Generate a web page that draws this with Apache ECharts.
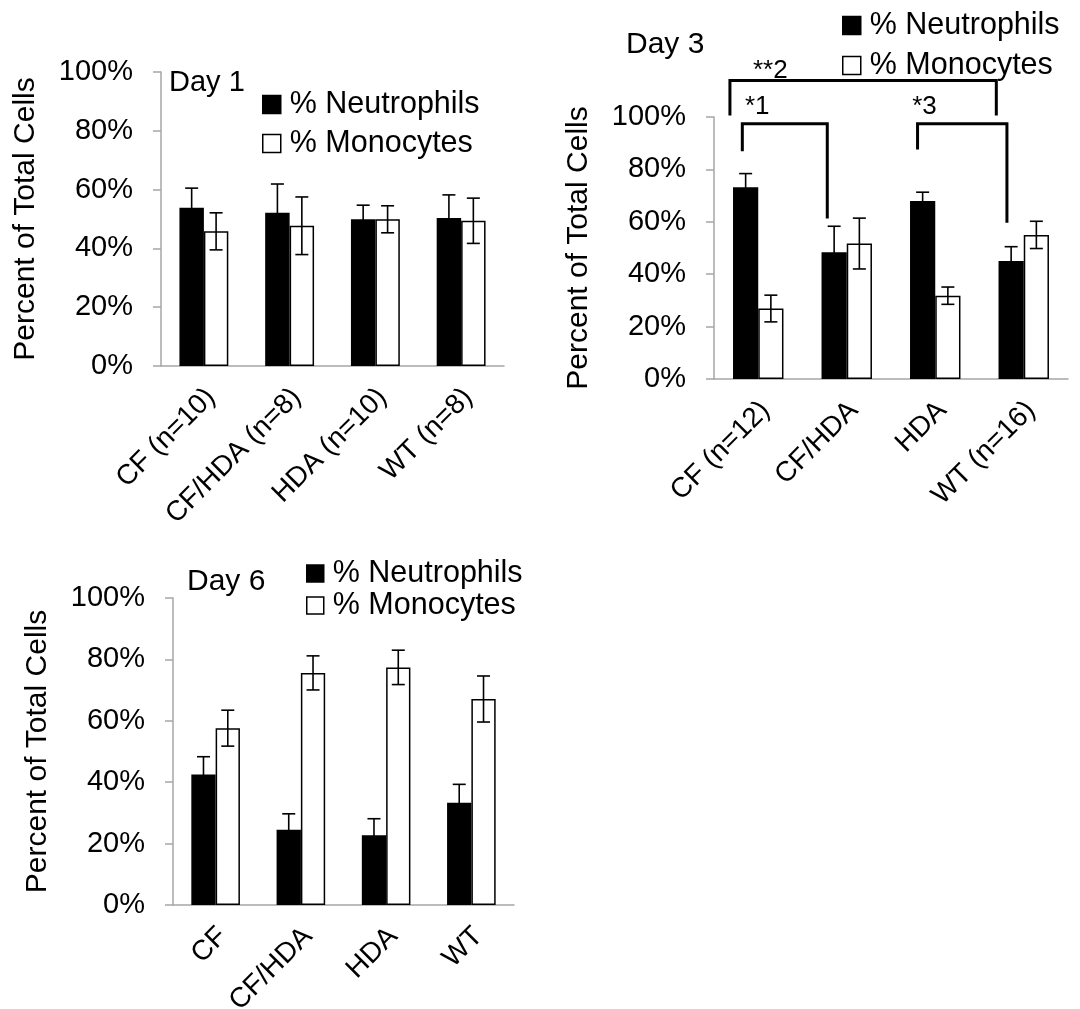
<!DOCTYPE html>
<html>
<head>
<meta charset="utf-8">
<script src="https://cdn.jsdelivr.net/npm/echarts@6/dist/echarts.min.js"></script>
<style>
  html, body { margin: 0; padding: 0; background: #fff; }
  #main { width: 1080px; height: 1009px; }
</style>
</head>
<body>
<div id="main"></div>
<script>
// categories
var day1Cats = ['CF (n=10)', 'CF/HDA (n=8)', 'HDA (n=10)', 'WT (n=8)']
var day3Cats = ['CF (n=12)', 'CF/HDA', 'HDA', 'WT (n=16)']
var day6Cats = ['CF', 'CF/HDA', 'HDA', 'WT']

// % of total cells, with error
var day1Neut = [53.8, 52.1, 49.9, 50.3]
var day1NeutErr = [6.7, 9.8, 4.8, 7.9]
var day1Mono = [45.8, 47.7, 49.9, 49.4]
var day1MonoErr = [6.3, 9.8, 4.6, 7.7]

var day3Neut = [73.2, 48.4, 67.9, 45.0]
var day3NeutErr = [5.2, 9.9, 3.4, 5.5]
var day3Mono = [26.9, 51.7, 31.8, 55.0]
var day3MonoErr = [5.1, 9.7, 3.3, 5.2]

var day6Neut = [42.5, 24.5, 22.7, 33.3]
var day6NeutErr = [5.8, 5.2, 5.4, 6.0]
var day6Mono = [57.6, 75.6, 77.4, 67.1]
var day6MonoErr = [5.85, 5.55, 5.6, 7.5]

var yTicks = [0, 20, 40, 60, 80, 100]

// significance brackets on day 3
var sigLabels = ['*1', '**2', '*3']
var sigFrom = [0, 0, 2]
var sigTo = [1, 3, 3]
var sigTop = [97.4, 113.9, 97.4]
var sigFootL = [86.9, 100.6, 87.6]
var sigFootR = [61.3, 100.6, 59.6]
var sigLabelY = [104, 117.5, 104]

var FONT = '"Liberation Sans", Arial, sans-serif'
var BAR_FRAC = 0.285
var AXIS_GRAY = '#a6a6a6'

var chart = echarts.init(document.getElementById('main'))

function xAxisFor(idx, cats) {
  return {
    type: 'category', gridIndex: idx, data: cats,
    axisLine: { lineStyle: { color: AXIS_GRAY, width: 1.5 } },
    axisTick: { length: 8, lineStyle: { color: AXIS_GRAY, width: 1.5 } },
    axisLabel: { rotate: 45, interval: 0, margin: 20, verticalAlign: 'top', lineHeight: 20,
      color: '#000', fontSize: 28, fontFamily: FONT }
  }
}

function yAxisFor(idx) {
  return {
    type: 'value', gridIndex: idx, min: 0, max: 100, interval: 20,
    name: 'Percent of Total Cells', nameLocation: 'middle', nameGap: 120,
    nameTextStyle: { color: '#000', fontSize: 30, fontFamily: FONT },
    axisLine: { show: true, lineStyle: { color: AXIS_GRAY, width: 1.5 } },
    axisTick: { show: true, length: 8, lineStyle: { color: AXIS_GRAY, width: 1.5 } },
    splitLine: { show: false },
    axisLabel: { margin: 28, color: '#000', fontSize: 29, fontFamily: FONT,
      formatter: function (v) { return yTicks.indexOf(v) >= 0 ? v + '%' : '' } }
  }
}

function barSeries(idx, name, vals, color) {
  return {
    type: 'bar', name: name, xAxisIndex: idx, yAxisIndex: idx,
    data: vals, barWidth: (BAR_FRAC * 100) + '%', barGap: '0%',
    itemStyle: { color: color, borderColor: '#000', borderWidth: 1.5 },
    emphasis: { disabled: true }
  }
}

function errSeries(idx, neut, neutErr, mono, monoErr) {
  var rows = []
  for (let i in neut) rows.push([+i, neut[i], neutErr[i], 0])
  for (let i in mono) rows.push([+i, mono[i], monoErr[i], 1])
  return {
    type: 'custom', xAxisIndex: idx, yAxisIndex: idx, z: 5, silent: true,
    data: rows, encode: { x: 0, y: 1 },
    renderItem: function (params, api) {
      var i = api.value(0), v = api.value(1), e = api.value(2), k = api.value(3)
      var band = api.size([1, 0])[0]
      var bw = band * BAR_FRAC
      var x = api.coord([i, v])[0] + (k == 0 ? -bw / 2 : bw / 2)
      var yt = api.coord([i, v + e])[1]
      var yb = api.coord([i, v - e])[1]
      var st = { stroke: '#000', lineWidth: 1.6 }
      return { type: 'group', children: [
        { type: 'line', shape: { x1: x, y1: yt, x2: x, y2: yb }, style: st },
        { type: 'line', shape: { x1: x - 6.5, y1: yt, x2: x + 6.5, y2: yt }, style: st },
        { type: 'line', shape: { x1: x - 6.5, y1: yb, x2: x + 6.5, y2: yb }, style: st }
      ] }
    }
  }
}

// bracket offsets inside a category band (fraction of band)
var sigFromOff = [-0.18, -0.32, -0.2]
var sigToOff = [-0.22, -0.31, -0.19]
var sigLabelOff = [-0.15, -0.06, -0.26]

var sigRows = sigLabels.map(function (l, i) {
  return [sigFrom[i], sigTo[i], sigTop[i], sigFootL[i], sigFootR[i], sigLabelY[i]]
})

var legendText = { color: '#000', fontSize: 30.5, fontFamily: FONT, padding: [0, 0, 0, 4] }
var legendStyle = { borderColor: '#000', borderWidth: 1.5 }
var titleText = { color: '#000', fontSize: 30, fontWeight: 'normal', fontFamily: FONT }

chart.setOption({
  animation: false,
  backgroundColor: '#fff',
  title: [
    { text: 'Day 1', left: 169, top: 68, padding: 0, textStyle: { color: '#000', fontSize: 29, fontWeight: 'normal', fontFamily: FONT } },
    { text: 'Day 3', left: 626, top: 30, padding: 0, textStyle: titleText },
    { text: 'Day 6', left: 187, top: 567, padding: 0, textStyle: titleText }
  ],
  legend: [
    { left: 262, top: 89, orient: 'vertical', padding: 0, itemGap: 8, itemWidth: 18, itemHeight: 18, icon: 'rect',
      data: ['% Neutrophils', '% Monocytes'], textStyle: legendText, itemStyle: legendStyle, selectedMode: false },
    { left: 842, top: 10, orient: 'vertical', padding: 0, itemGap: 9, itemWidth: 18, itemHeight: 18, icon: 'rect',
      data: ['% Neutrophils', '% Monocytes'], textStyle: legendText, itemStyle: legendStyle, selectedMode: false },
    { left: 306, top: 558, orient: 'vertical', padding: 0, itemGap: 1, itemWidth: 17, itemHeight: 17, icon: 'rect',
      data: ['% Neutrophils', '% Monocytes'], textStyle: legendText, itemStyle: legendStyle, selectedMode: false }
  ],
  grid: [
    { left: 161, top: 72, width: 343, height: 294, outerBoundsMode: 'none' },
    { left: 714, top: 117, width: 354, height: 262, outerBoundsMode: 'none' },
    { left: 173, top: 598, width: 341, height: 307, outerBoundsMode: 'none' }
  ],
  xAxis: [xAxisFor(0, day1Cats), xAxisFor(1, day3Cats), xAxisFor(2, day6Cats)],
  yAxis: [yAxisFor(0), yAxisFor(1), yAxisFor(2)],
  series: [
    barSeries(0, '% Neutrophils', day1Neut, '#000'),
    barSeries(0, '% Monocytes', day1Mono, '#fff'),
    errSeries(0, day1Neut, day1NeutErr, day1Mono, day1MonoErr),
    barSeries(1, '% Neutrophils', day3Neut, '#000'),
    barSeries(1, '% Monocytes', day3Mono, '#fff'),
    errSeries(1, day3Neut, day3NeutErr, day3Mono, day3MonoErr),
    barSeries(2, '% Neutrophils', day6Neut, '#000'),
    barSeries(2, '% Monocytes', day6Mono, '#fff'),
    errSeries(2, day6Neut, day6NeutErr, day6Mono, day6MonoErr),
    {
      type: 'custom', xAxisIndex: 1, yAxisIndex: 1, z: 6, silent: true, clip: false,
      data: sigRows, encode: { x: 0, y: 2 },
      renderItem: function (params, api) {
        var n = params.dataIndex
        var band = api.size([1, 0])[0]
        var xl = api.coord([api.value(0), 0])[0] + sigFromOff[n] * band
        var xr = api.coord([api.value(1), 0])[0] + sigToOff[n] * band
        var yt = api.coord([0, api.value(2)])[1]
        var yl = api.coord([0, api.value(3)])[1]
        var yr = api.coord([0, api.value(4)])[1]
        var xt = api.coord([api.value(0), 0])[0] + sigLabelOff[n] * band
        var ty = api.coord([0, api.value(5)])[1]
        return { type: 'group', children: [
          { type: 'polyline', shape: { points: [[xl, yl], [xl, yt], [xr, yt], [xr, yr]] },
            style: { stroke: '#000', lineWidth: 3, fill: null } },
          { type: 'text', x: xt, y: ty,
            style: { text: sigLabels[n], fill: '#000', fontSize: 26, fontFamily: FONT, align: 'left', verticalAlign: 'middle' } }
        ] }
      }
    }
  ]
})
</script>
</body>
</html>
